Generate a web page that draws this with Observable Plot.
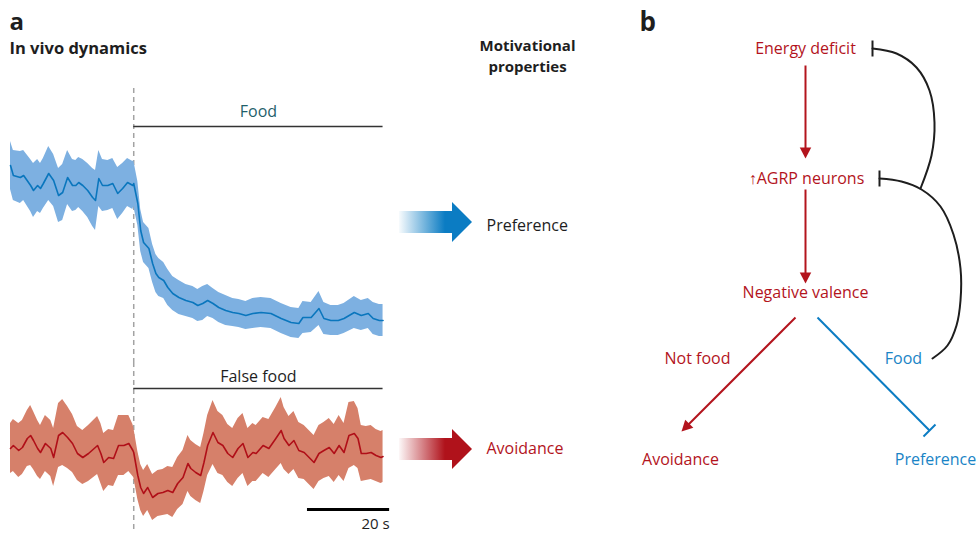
<!DOCTYPE html>
<html><head><meta charset="utf-8">
<script src="https://cdn.jsdelivr.net/npm/d3@7"></script>
<script src="https://cdn.jsdelivr.net/npm/@observablehq/plot@0.6"></script>
<style>
body{margin:0;background:#fff;}
#fig{position:relative;width:976px;height:534px;background:#fff;overflow:hidden;font-family:"Open Sans",sans-serif;}
</style></head><body><div id="fig"></div>
<script>
// ---------- Panel a: in vivo dynamics (time in s relative to stimulus, signal in a.u.) ----------
const blueT = [-30.0,-29.3,-27.6,-26.8,-25.1,-24.4,-23.4,-22.7,-22.0,-20.7,-19.5,-18.3,-17.3,-16.1,-14.9,-14.1,-13.4,-12.4,-11.2,-10.0,-9.3,-8.5,-7.6,-6.3,-5.1,-3.9,-2.7,-1.5,-0.2,
  0,1.0,1.7,2.4,3.7,4.6,5.4,6.1,7.3,8.3,9.5,11.0,12.7,14.4,15.6,16.8,18.0,19.3,20.7,22.4,24.1,25.6,27.3,29.0,
  31.0,33.4,35.9,38.3,40.2,41.2,43.2,45.1,46.3,48.0,49.8,51.2,53.7,55.4,57.1,58.3,59.8,60.7];
const blueMean = [1.8,0.8,0.6,0.8,-0.2,-0.7,-0.2,-0.5,0,1.0,0.3,-1.2,-0.9,0.6,-0.2,-0.2,0.1,-0.2,-0.7,-1.4,-1.7,0.5,-0.2,-0.2,0,-1.0,-0.5,0.1,-0.2,
  0,-2.0,-4.7,-5.9,-6.5,-8.0,-9.0,-9.4,-9.7,-10.4,-11.0,-11.4,-11.7,-11.9,-12.2,-12.0,-11.7,-12.0,-12.4,-12.7,-12.9,-13.0,-13.2,-13.0,
  -12.9,-13.0,-13.5,-13.9,-14.0,-13.4,-13.4,-12.5,-13.5,-13.7,-13.7,-13.5,-12.9,-13.2,-13.0,-13.5,-13.7,-13.7];
const blueSem = [2.4,2.5,2.6,2.5,2.6,2.7,2.6,2.5,2.5,2.7,2.6,2.7,2.8,2.7,2.6,2.5,2.5,2.6,2.7,2.9,3.0,2.8,2.6,2.5,2.5,2.6,2.5,2.4,2.4,
  2.3,2.2,2.1,2.0,2.0,1.9,1.9,1.9,1.8,1.8,1.7,1.7,1.6,1.6,1.6,1.7,1.6,1.5,1.5,1.5,1.4,1.4,1.4,1.5,
  1.5,1.5,1.5,1.5,1.5,1.6,1.5,1.7,1.6,1.5,1.5,1.5,1.6,1.5,1.5,1.6,1.6,1.6];

const redT = [-30.0,-29.3,-28.0,-27.1,-25.9,-25.1,-24.4,-23.4,-22.7,-21.5,-20.2,-19.5,-18.3,-17.3,-16.1,-14.9,-13.7,-12.4,-11.0,-8.8,-8.0,-7.3,-6.1,-4.9,-3.7,-2.4,-1.2,-0.2,
  0,1.0,1.7,2.4,3.4,4.6,5.9,7.1,8.3,9.5,10.7,12.0,13.2,13.9,15.1,16.3,17.1,18.0,19.3,20.5,21.7,22.9,24.1,25.4,26.6,27.8,29.0,
  29.8,31.5,32.9,34.6,35.9,36.6,37.8,39.0,40.2,41.5,42.7,43.9,45.1,46.3,47.6,48.8,50.0,51.2,52.4,53.7,54.6,55.4,56.6,57.8,59.0,60.2,60.7];
const redMean = [0,0.3,-0.2,0.1,1.0,1.3,0.8,0,-0.4,0.5,0,-0.9,1.3,1.6,1.1,0.5,-0.5,-0.9,-0.5,0.3,-0.5,-1.4,-0.9,-1.0,0.3,0.3,0.5,-0.2,
  -0.4,-2.7,-3.9,-4.5,-3.9,-4.9,-4.5,-4.4,-4.2,-4.4,-3.5,-2.9,-1.5,-2.0,-2.4,-2.7,-1.4,0.3,1.6,0.6,0.3,-0.5,-0.9,0,0.5,-0.9,-0.4,
  -0.5,0.3,0,1.0,1.8,1.0,0.3,0.8,-0.2,-0.4,-0.9,-1.4,-0.5,-0.2,0.1,-0.5,0.3,-0.4,1.3,1.5,1.0,-0.5,-0.5,-0.4,-0.7,-0.9,-0.8];
const redSem = [2.5,2.6,2.7,2.7,2.8,3.0,2.9,2.8,2.7,2.8,2.8,2.9,3.2,3.3,3.1,2.9,2.7,2.7,2.8,2.9,3.0,2.9,2.8,2.8,3.0,3.0,2.8,2.6,
  2.5,2.4,2.3,2.3,2.3,2.3,2.3,2.3,2.4,2.5,2.6,2.7,2.8,2.8,2.8,2.8,2.9,3.0,3.2,3.1,3.0,2.9,2.9,3.0,3.0,2.9,2.9,
  2.8,2.8,2.9,3.1,3.3,3.1,2.9,2.9,2.8,2.7,2.7,2.7,2.8,2.8,2.9,2.9,3.0,2.9,3.3,3.2,3.0,2.8,2.7,2.7,2.6,2.6,2.6];

const stimulusLabels = ["Food", "False food"];
const stimulusStart = 0, stimulusEnd = 60.7;   // s
const scaleBarStart = 42.3, scaleBarLength = 20; // s
const scaleBarLabel = "20 s";

// ---------- middle column ----------
const outcomes = ["Preference", "Avoidance"];
const columnTitle = ["Motivational", "properties"];

// ---------- Panel b: diagram ----------
const nodeLabels = ["Energy deficit", "\u2191AGRP neurons", "Negative valence", "Not food", "Food", "Avoidance", "Preference"];

// ================= rendering =================
const FONT = "'Open Sans', sans-serif";
const RED = "#b3141d", BLUE = "#0b7cc3", BLUE_TXT = "#1a84c6", DARK = "#1e1e1e";
const fig = document.getElementById("fig");
function place(el, left, top) {
  el.style.position = "absolute"; el.style.left = left + "px"; el.style.top = top + "px";
  el.style.background = "transparent"; el.style.maxWidth = "none"; el.style.overflow = "visible";
  fig.appendChild(el);
}
const zip = (T, M, S) => T.map((t, i) => ({t, v: M[i], s: S[i]}));
const blue = zip(blueT, blueMean, blueSem);
const red = zip(redT, redMean, redSem);
const bars = stimulusLabels.map(label => ({label, start: stimulusStart, end: stimulusEnd}));
const base = {marginLeft: 0, marginRight: 0, marginTop: 0, marginBottom: 0, style: {fontFamily: FONT, background: "transparent", overflow: "visible"}};

// header of panel a
place(Plot.plot({...base, width: 392, height: 88,
  x: {domain: [0, 392], range: [0, 392], axis: null}, y: {domain: [0, 88], range: [0, 88], axis: null},
  marks: [
    Plot.text(["a"], {x: 9, y: 29, text: d => d, textAnchor: "start", lineAnchor: "bottom", fontSize: 24, fontWeight: "bold", fill: DARK}),
    Plot.text(["In vivo dynamics"], {x: 9, y: 48, text: d => d, textAnchor: "start", fontSize: 16.5, fontWeight: "bold", fill: DARK})
  ]}), 0, 0);

const xTime = {domain: [-30, 63], axis: null};
// blue trace (food)
place(Plot.plot({...base, width: 392, height: 274, marginLeft: 10,
  x: xTime, y: {domain: [-17.9, 9.5], axis: null},
  marks: [
    Plot.ruleX([0], {stroke: "#a3a3a3", strokeWidth: 1.5, strokeDasharray: "5,4"}),
    Plot.areaY(blue, {x: "t", y1: d => d.v - d.s, y2: d => d.v + d.s, fill: "#7db0e1"}),
    Plot.lineY(blue, {x: "t", y: "v", stroke: "#0a76bd", strokeWidth: 1.6}),
    Plot.ruleY(bars.slice(0, 1), {y: 5.7, x1: "start", x2: "end", stroke: "#333", strokeWidth: 1.5}),
    Plot.text(bars.slice(0, 1), {x: d => (d.start + d.end) / 2, y: 7.2, text: "label", fill: "#1f5f6b", fontSize: 16})
  ]}), 0, 88);

// red trace (false food)
place(Plot.plot({...base, width: 392, height: 172, marginLeft: 10,
  x: xTime, y: {domain: [-8.6, 8.6], axis: null},
  marks: [
    Plot.ruleX([0], {y1: 8.6, y2: -8.2, stroke: "#a3a3a3", strokeWidth: 1.5, strokeDasharray: "5,4"}),
    Plot.areaY(red, {x: "t", y1: d => d.v - d.s, y2: d => d.v + d.s, fill: "#d6806a"}),
    Plot.lineY(red, {x: "t", y: "v", stroke: "#b00f18", strokeWidth: 1.6}),
    Plot.ruleY(bars.slice(1), {y: 6.0, x1: "start", x2: "end", stroke: "#333", strokeWidth: 1.5}),
    Plot.text(bars.slice(1), {x: d => (d.start + d.end) / 2, y: 7.2, text: "label", fill: DARK, fontSize: 16}),
    Plot.ruleY([scaleBarStart], {y: -6.1, x1: d => d, x2: d => d + scaleBarLength, stroke: "#000", strokeWidth: 3}),
    Plot.text([scaleBarLabel], {x: scaleBarStart + scaleBarLength, y: -7.6, text: d => d, textAnchor: "end", fill: DARK, fontSize: 15})
  ]}), 0, 362);

// middle column: gradient arrows
const rows = outcomes.map((label, i) => ({label, yc: i === 0 ? 222 : 449, yt: i === 0 ? 225 : 448,
  color: i === 0 ? BLUE : "#b0121b", txt: i === 0 ? DARK : RED, grad: i === 0 ? "gB" : "gR"}));
const defs = () => {
  const g = d3.create("svg:g");
  const d = g.append("defs");
  for (const r of rows) {
    const lg = d.append("linearGradient").attr("id", r.grad).attr("x1", 0).attr("x2", 1).attr("y1", 0).attr("y2", 0);
    lg.append("stop").attr("offset", "0%").attr("stop-color", r.color).attr("stop-opacity", 0.03);
    lg.append("stop").attr("offset", "85%").attr("stop-color", r.color).attr("stop-opacity", 1);
    lg.append("stop").attr("offset", "100%").attr("stop-color", r.color).attr("stop-opacity", 1);
  }
  return g.node();
};
const midMarks = [defs];
for (const r of rows) {
  midMarks.push(Plot.rect([r], {x1: 7, x2: 61, y1: d => d.yc - 11, y2: d => d.yc + 11, fill: `url(#${r.grad})`}));
  midMarks.push(Plot.areaY([{x: 60, a: r.yc - 20, b: r.yc + 20}, {x: 80, a: r.yc, b: r.yc}], {x: "x", y1: "a", y2: "b", fill: r.color}));
  midMarks.push(Plot.text([r], {x: 94, y: "yt", text: "label", textAnchor: "start", fill: r.txt, fontSize: 16}));
}
midMarks.push(Plot.text(columnTitle, {x: 135, y: (d, i) => 46 + i * 20.5, text: d => d, fontSize: 15, fontWeight: "bold", fill: DARK}));
place(Plot.plot({...base, width: 240, height: 534,
  x: {domain: [0, 240], range: [0, 240], axis: null}, y: {domain: [0, 534], range: [0, 534], axis: null},
  marks: midMarks}), 392, 0);

// panel b: diagram (local layout units = px within panel)
const nodeColors = [RED, RED, RED, RED, BLUE_TXT, RED, BLUE_TXT];
const nodePos = [[185, 48], [186, 178], [185, 292], [77, 358], [283, 358], [60, 459], [315, 459]];
const nodes = nodeLabels.map((label, i) => ({label, x: nodePos[i][0], y: nodePos[i][1], color: nodeColors[i]}));
const links = [
  {x1: 185, y1: 65, x2: 185, y2: 150, color: RED},
  {x1: 185, y1: 189, x2: 185, y2: 275, color: RED},
  {x1: 175, y1: 317, x2: 67, y2: 425, color: RED},
  {x1: 197, y1: 317, x2: 309, y2: 430, color: BLUE}
];
const heads = [
  {x: 185, y: 158, angle: 180, color: RED},
  {x: 185, y: 283, angle: 180, color: RED},
  {x: 61, y: 431, angle: 225, color: RED}
];
const bluntEnds = [
  {x1: 252, y1: 40, x2: 252, y2: 56, color: DARK},
  {x1: 259, y1: 170, x2: 259, y2: 186, color: DARK},
  {x1: 303, y1: 436, x2: 315, y2: 424, color: BLUE}
];
const arcs = [
  ...[[252,48],[276,53],[296,67],[309,90],[314,122],[311,155],[300,188]].map(([x, y]) => ({id: 1, x, y})),
  ...[[259,178],[281,181],[301,189],[320,206],[333,234],[340,268],[340,300],[336,325],[327,345],[312,358]].map(([x, y]) => ({id: 2, x, y}))
];
const headSymbol = {draw(ctx, size) { const r = Math.sqrt(size / Math.PI); ctx.moveTo(0, 0); ctx.lineTo(r * 1.15, r * 2.2); ctx.lineTo(-r * 1.15, r * 2.2); ctx.closePath(); }};
place(Plot.plot({...base, width: 356, height: 534,
  x: {domain: [0, 356], range: [0, 356], axis: null}, y: {domain: [0, 534], range: [0, 534], axis: null},
  color: {type: "identity"},
  marks: [
    Plot.text(["b"], {x: 19, y: 30, text: d => d, textAnchor: "start", lineAnchor: "bottom", fontSize: 26, fontWeight: "bold", fill: DARK}),
    Plot.line(arcs, {x: "x", y: "y", z: "id", curve: "catmull-rom", stroke: DARK, strokeWidth: 2}),
    Plot.link(links, {x1: "x1", y1: "y1", x2: "x2", y2: "y2", stroke: "color", strokeWidth: 2}),
    Plot.link(bluntEnds, {x1: "x1", y1: "y1", x2: "x2", y2: "y2", stroke: "color", strokeWidth: 2}),
    Plot.dot(heads, {x: "x", y: "y", symbol: headSymbol, r: 5, rotate: "angle", fill: "color", stroke: "none"}),
    Plot.text(nodes, {x: "x", y: "y", text: "label", fill: "color", fontSize: 16})
  ]}), 620, 0);
</script></body></html>
